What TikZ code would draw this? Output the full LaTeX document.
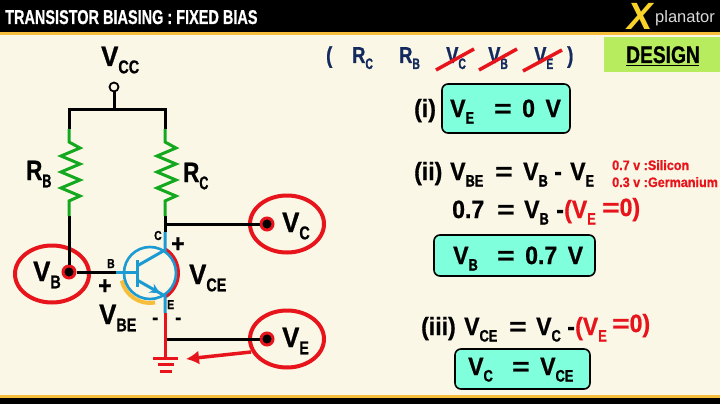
\documentclass[tikz,border=0pt]{standalone}
\usepackage{fontspec}
\setmainfont{Liberation Sans}[FakeStretch=0.8,BoldFeatures={FakeBold=0.8}]
\newfontfamily\widefont{Liberation Sans}[FakeStretch=0.92,BoldFeatures={FakeBold=0.8}]
\newfontfamily\logofont{Liberation Sans}
\usepackage{tikz}
\usetikzlibrary{arrows.meta, positioning, calc, shapes.geometric}
\definecolor{paper}{HTML}{FAF7E6}
\definecolor{strip}{HTML}{F6BE3A}
\definecolor{wirered}{HTML}{E8141C}
\definecolor{wiregreen}{HTML}{14A81E}
\definecolor{wireblue}{HTML}{1C9AD2}
\definecolor{navy}{HTML}{14295E}
\definecolor{aqua}{HTML}{7FFFDC}
\definecolor{lime}{HTML}{B7EC5E}
\newcommand{\subs}[1]{\raisebox{-0.26em}{\scalebox{0.56}[0.66]{#1}}}
\newcommand{\eqs}{\scalebox{1.3}[1]{=}}

\begin{document}
\begin{tikzpicture}[x=1pt,y=-1pt,
 eqn/.style={inner sep=0,anchor=base west,font=\widefont\bfseries\fontsize{25}{25}\selectfont},
 big/.style={eqn,font=\widefont\bfseries\fontsize{28}{28}\selectfont},
 rlab/.style={eqn,font=\bfseries\fontsize{28}{28}\selectfont},
 pick/.style={eqn,navy,font=\bfseries\fontsize{23}{23}\selectfont},
 tiny/.style={eqn,font=\bfseries\fontsize{13}{13}\selectfont},
 sign/.style={eqn,font=\widefont\bfseries\fontsize{20}{20}\selectfont},
 note/.style={eqn,wirered,font=\widefont\bfseries\fontsize{13.7}{13.7}\selectfont},
 red eqn/.style={eqn,wirered},
 answer/.style={draw=black,line width=1.6pt,fill=aqua,rounded corners=6pt},
 wire/.style={line width=3pt},
 blue wire/.style={wireblue,line width=3pt},
 ring/.style={ellipse,draw=wirered,line width=4pt,minimum width=74pt,minimum height=57pt,inner sep=0},
 probe/.style={circle,fill=black,draw=wirered,line width=3pt,minimum size=12pt,inner sep=0},
 cross/.style={wirered,line width=3.5pt}]
  \useasboundingbox (0,0) rectangle (720,404);
  \fill[paper] (0,0) rectangle (720,404);
  \fill[black] (0,0) rectangle (720,32);
  \fill[strip] (0,32) rectangle (720,35);
  \fill[strip] (0,395) rectangle (720,398);
  \fill[black] (0,398) rectangle (720,404);
  \node[eqn,white,xscale=0.905,font=\bfseries\fontsize{20}{20}\selectfont] (title) at (5,24) {TRANSISTOR BIASING : FIXED BIAS};
  \node[inner sep=0,anchor=base west,strip!70!yellow,font=\logofont\itshape\bfseries\fontsize{38}{38}\selectfont] (logox) at (627,30) {X};
  \node[inner sep=0,anchor=base west,white!85!black,font=\logofont\fontsize{16.5}{16.5}\selectfont] (logo) at (655,23) {planator};

  % circuit points
  \coordinate (top) at (114,109);
  \coordinate (tl) at (69,109);
  \coordinate (tr) at (165,109);
  \coordinate (rbtop) at (69,129);
  \coordinate (rctop) at (165,129);
  \coordinate (rbend) at (69,216);
  \coordinate (rcend) at (165,216);
  \coordinate (cnode) at (165,224);
  \coordinate (cblue) at (165,232);
  \coordinate (cpin) at (165,250);
  \coordinate (epin) at (165,296);
  \coordinate (eblue) at (165,313);
  \coordinate (enode) at (165,339);
  \coordinate (gnd) at (165,358);
  \coordinate (bblue) at (116,272);
  \coordinate (bar) at (137,272);
  \coordinate (barc) at (137,266);
  \coordinate (bare) at (137,280);
  \coordinate (bartop) at (137,260);
  \coordinate (barbot) at (137,287);
  \coordinate (rearrow) at (251,352);
  \coordinate (gndtip) at (186,359);
  \node[circle,draw=black,fill=paper,line width=1.8pt,minimum size=9pt,inner sep=0] (vcc) at (114,87) {};

  % bias arcs under the transistor
  \draw[strip,line width=4pt] (150,274) ++(167:29) arc[start angle=167,end angle=80,radius=29];
  \draw[wirered,line width=4pt] (150,273) ++(-57:28) arc[start angle=-57,end angle=57,radius=28];
  \node[circle,draw=wireblue,line width=2.6pt,minimum size=52pt,inner sep=0] (q) at (150,273) {};

  \node[ring] (rb) at (52,274) {};
  \node[ring] (rc) at (287,224) {};
  \node[ring] (re) at (287,339) {};
  \node[probe] (pb) at (69,272) {};
  \node[probe] (pc) at (267,224) {};
  \node[probe] (pe) at (267,339) {};

  \draw[wire] (vcc) -- (top);
  \draw[wire,line join=miter] (rbtop) -- (tl) -- (tr) -- (rctop);
  \foreach \s/\t in {rbend/pb, pb/bblue, rcend/cblue, cnode/pc, enode/pe} {
   \draw[wire] (\s) -- (\t);}
  \draw[blue wire] (cblue) -- (cpin) -- (barc);
  \draw[blue wire] (bblue) -- (bar);
  \draw[blue wire] (bartop) -- (barbot);
  \draw[blue wire,-{Stealth[length=10pt,width=10pt]}] (bare) -- ($(bare)!0.82!(epin)$);
  \draw[blue wire] ($(bare)!0.7!(epin)$) -- (epin) -- (eblue);

  % resistors
  \foreach \p/\e in {rbtop/rbend, rctop/rcend} {
   \draw[wiregreen,wire,line join=miter] (\p) -- ++(0,13) -- ++(11,6) -- ++(-19,8) -- ++(19,8) -- ++(-19,8) -- ++(19,8) -- ++(-19,8) -- ++(19,8) -- ++(-11,5) -- (\e);}

  % ground
  \draw[wirered,wire] (eblue) -- (gnd);
  \draw[wirered,line width=3pt] (153,358) -- (178,358);
  \draw[wirered,line width=3pt] (158,364) -- (174,364);
  \draw[wirered,line width=3pt] (160,371) -- (172,371);
  \draw[wirered,line width=3.5pt,-{Latex[length=13pt,width=14pt]}] (rearrow) -- (gndtip);

  % circuit labels
  \node[big] (lvcc) at (101,66) {V\subs{CC}};
  \node[rlab] (lrb) at (26,180) {R\subs{B}};
  \node[rlab] (lrc) at (183,182) {R\subs{C}};
  \node[big] (lvb) at (33,281) {V\subs{B}};
  \node[big] (lvc) at (282,232) {V\subs{C}};
  \node[big] (lve) at (282,347) {V\subs{E}};
  \node[big] (lvce) at (189,284) {V\subs{CE}};
  \node[big] (lvbe) at (99,324) {V\subs{BE}};
  \node[tiny] (lc) at (154,240) {C};
  \node[tiny] (lb) at (107,268) {B};
  \node[tiny] (le) at (167,309) {E};
  \node[eqn] (pc1) at (171,252) {+};
  \node[eqn] (pb1) at (98,294) {+};
  \node[sign] (me1) at (152,324) {-};
  \node[sign] (me2) at (175,324) {-};

  % known and unknown list
  \node[pick] (open) at (326,63) {(};
  \node[pick] (prc) at (352,63) {R\subs{C}};
  \node[pick] (prb) at (399,63) {R\subs{B}};
  \node[pick] (pvc) at (446,63) {V\subs{C}};
  \node[pick] (pvb) at (488,63) {V\subs{B}};
  \node[pick] (pve) at (534,63) {V\subs{E}};
  \node[pick] (close) at (567,63) {)};
  \draw[cross] (436,70) -- (474,49);
  \draw[cross] (479,70) -- (517,49);
  \draw[cross] (523,71) -- (562,50);

  \fill[lime] (604,37) rectangle (720,72);
  \node[eqn,font=\bfseries\fontsize{24}{24}\selectfont] (design) at (626,63) {DESIGN};
  \draw[line width=1.4pt] (design.base west)++(0,2.5) -- ++(73,0);

  % step one
  \draw[answer] (442,84) rectangle (570,133);
  \node[eqn] (s1) at (414,117) {(i)};
  \node[eqn] (s1a) at (450,117) {V\subs{E}};
  \node[eqn] (s1b) at (494,117) {\eqs\ \,0\ \,V};

  % step two
  \node[eqn] (s2) at (414,180) {(ii)};
  \node[eqn] (s2a) at (450,180) {V\subs{BE}};
  \node[eqn] (s2b) at (495,180) {\eqs};
  \node[eqn] (s2c) at (523,180) {V\subs{B}};
  \node[eqn] (s2d) at (554,180) {-};
  \node[eqn] (s2e) at (570,180) {V\subs{E}};
  \node[note] (si) at (612,170) {0.7 v :Silicon};
  \node[note] (ge) at (612,187) {0.3 v :Germanium};
  \node[eqn] (s2f) at (452,218) {0.7};
  \node[eqn] (s2g) at (497,218) {\eqs};
  \node[eqn] (s2h) at (524,218) {V\subs{B}};
  \node[eqn] (s2i) at (556,218) {-};
  \node[red eqn] (s2j) at (564,218) {(V\subs{E}};
  \node[red eqn] (s2k) at (602,216) {\eqs0)};
  \draw[answer] (434,235) rectangle (595,276);
  \node[eqn] (s2l) at (453,264) {V\subs{B}};
  \node[eqn] (s2m) at (497,264) {\eqs\ \,0.7\ \,V};

  % step three
  \node[eqn] (s3) at (421,335) {(iii)};
  \node[eqn] (s3a) at (464,335) {V\subs{CE}};
  \node[eqn] (s3b) at (509,335) {\eqs};
  \node[eqn] (s3c) at (536,335) {V\subs{C}};
  \node[eqn] (s3d) at (567,335) {-};
  \node[red eqn] (s3e) at (575,335) {(V\subs{E}};
  \node[red eqn] (s3f) at (612,332) {\eqs0)};
  \draw[answer] (455,349) rectangle (590,389);
  \node[eqn] (s3g) at (468,375) {V\subs{C}};
  \node[eqn] (s3h) at (512,375) {\eqs};
  \node[eqn] (s3i) at (540,375) {V\subs{CE}};
\end{tikzpicture}
\end{document}
